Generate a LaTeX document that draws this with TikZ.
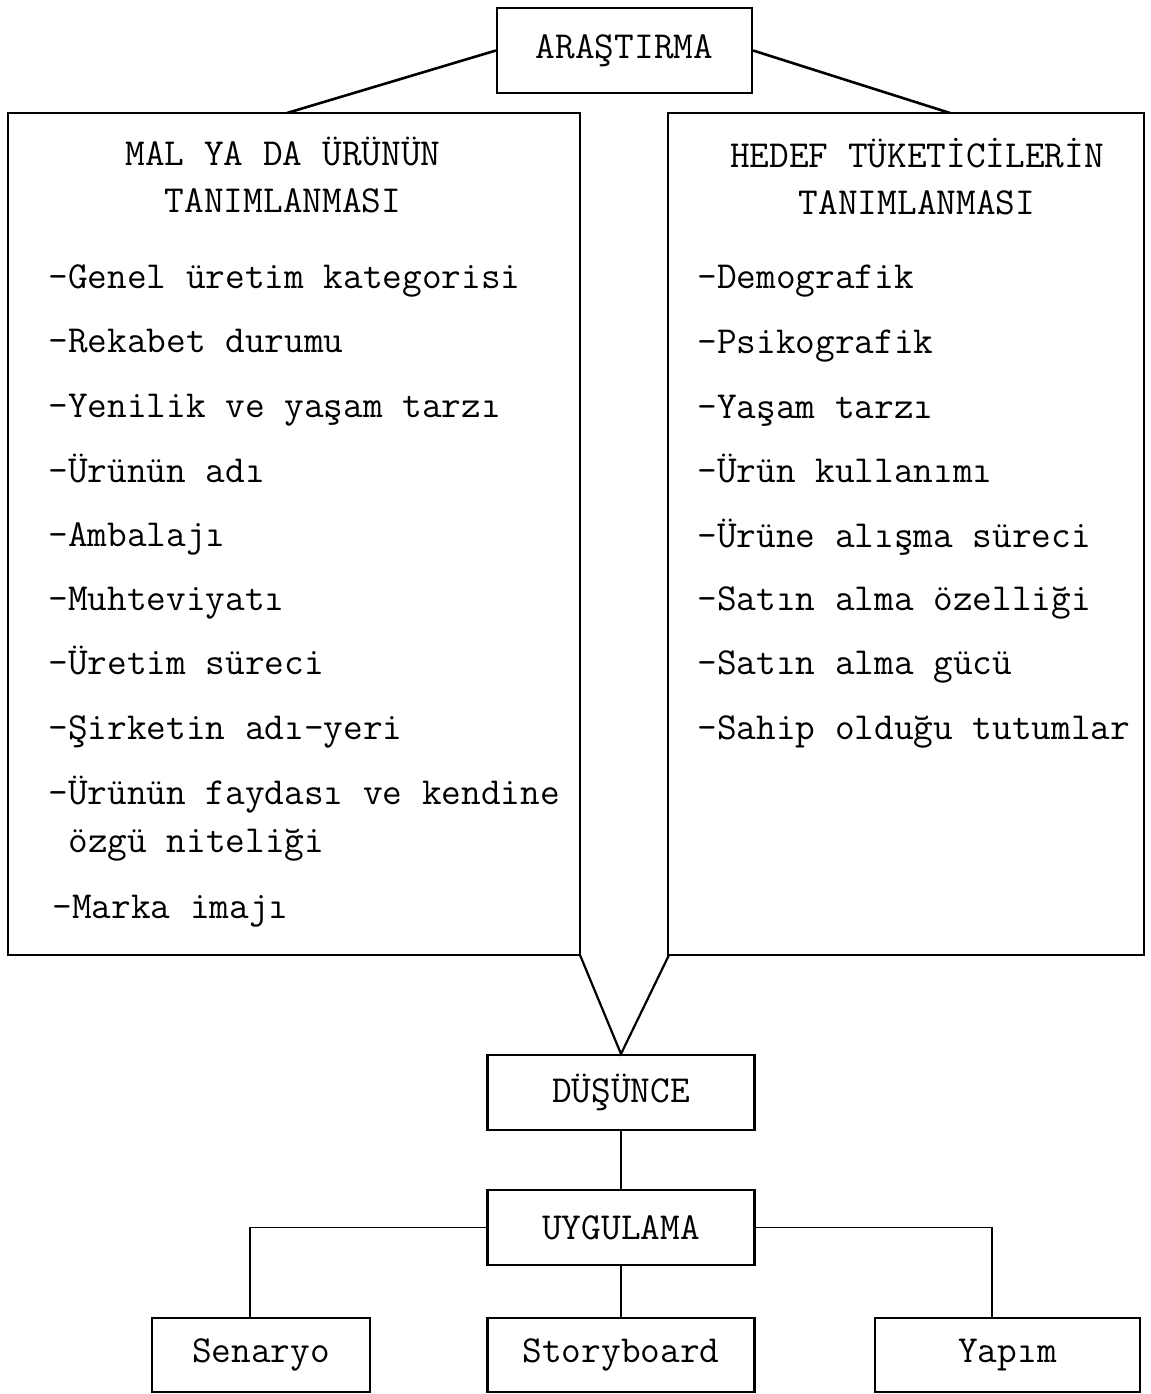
\documentclass[tikz,border=0pt]{standalone}
\usepackage{fontspec}
\begin{document}
\begin{tikzpicture}[x=0.5pt,y=-0.5pt]
\tikzset{
  tx/.style={font=\fontsize{19.1}{22}\selectfont\ttfamily, inner sep=0pt},
  frame/.style={draw, line width=1.1pt, inner sep=0pt},
  link/.style={line width=1.3pt},
  thinlink/.style={line width=0.8pt},
}
\useasboundingbox (0,0) rectangle (1151,1394);

% top box
\node[frame, tx, minimum width=127.5pt, minimum height=42.5pt] (ara) at (624.5,50.5) {ARAŞTIRMA};

% main boxes
\node[frame, minimum width=286pt, minimum height=421pt] (lbox) at (294,534) {};
\node[frame, minimum width=238pt, minimum height=421pt] (rbox) at (906,534) {};

\node[tx, align=center, font=\fontsize{19.1}{23.5}\selectfont\ttfamily] (ltitle) at (283,175) {MAL YA DA ÜRÜNÜN\\TANIMLANMASI};
\node[tx, align=center, font=\fontsize{19.1}{23.5}\selectfont\ttfamily] (rtitle) at (917,177) {HEDEF TÜKETİCİLERİN\\TANIMLANMASI};

\foreach \t/\x/\y [count=\i] in {
  -Genel üretim kategorisi/48/278,
  -Rekabet durumu/48/342,
  -Yenilik ve yaşam tarzı/48/407,
  -Ürünün adı/48/472,
  -Ambalajı/48/536,
  -Muhteviyatı/48/600,
  -Üretim süreci/48/664,
  -Şirketin adı-yeri/48/729,
  -Ürünün faydası ve kendine/48/794,
  özgü niteliği/68/842,
  -Marka imajı/52/908}
  \node[tx, anchor=base west] (L\i) at (\x,\y+10) {\t};

\foreach \t/\y [count=\i] in {
  -Demografik/278,
  -Psikografik/343,
  -Yaşam tarzı/408,
  -Ürün kullanımı/472,
  -Ürüne alışma süreci/537,
  -Satın alma özelliği/600,
  -Satın alma gücü/664,
  -Sahip olduğu tutumlar/729}
  \node[tx, anchor=base west] (R\i) at (697,\y+10) {\t};

% lower boxes
\node[frame, tx, minimum width=133.5pt, minimum height=37.5pt] (dus) at (621,1092.5) {DÜŞÜNCE};
\node[frame, tx, minimum width=133.5pt, minimum height=37.5pt] (uyg) at (621,1227.5) {UYGULAMA};
\node[frame, tx, minimum width=109pt, minimum height=37pt] (sen) at (261,1355) {Senaryo};
\node[frame, tx, minimum width=133.5pt, minimum height=37pt] (sto) at (621,1355) {Storyboard};
\node[frame, tx, minimum width=132.5pt, minimum height=37pt] (yap) at (1007.5,1355) {Yapım};

% connectors
\coordinate (lt) at (287,113);
\coordinate (rt) at (950,113);
\coordinate (lb) at (580,955);
\coordinate (rb) at (669,955);
\coordinate (senT) at (250,1318);
\coordinate (yapT) at (992,1318);

\draw[link] (ara.west) -- (lt);
\draw[link] (ara.east) -- (rt);
\draw[frame] (lb) -- (dus.north) -- (rb);
\draw[thinlink] (dus.south) -- (uyg.north);
\draw[thinlink] (uyg.west) -| (senT);
\draw[thinlink] (uyg.south) -- (sto.north);
\draw[thinlink] (uyg.east) -| (yapT);
\end{tikzpicture}
\end{document}
